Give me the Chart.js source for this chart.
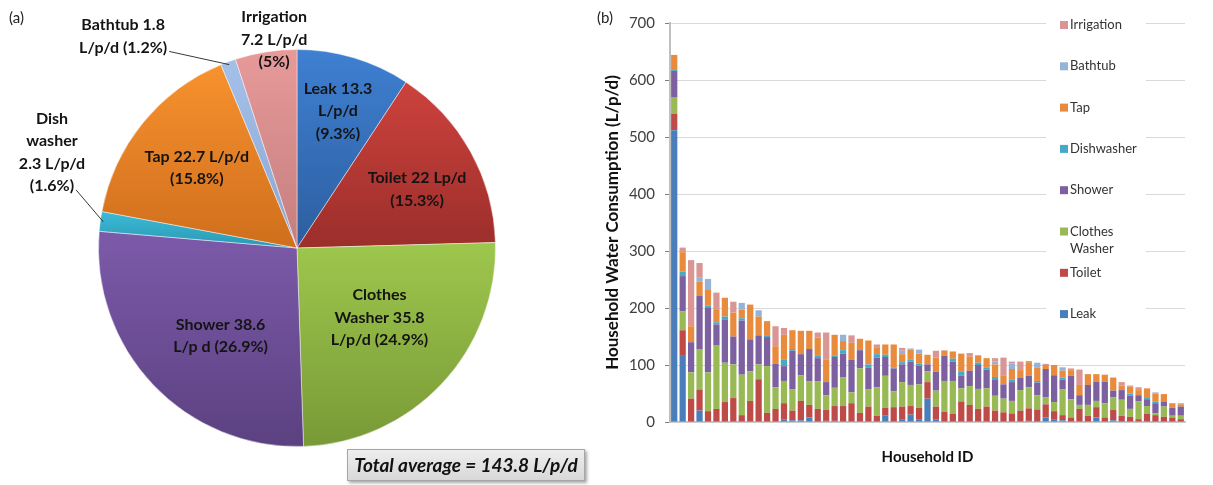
<!DOCTYPE html>
<html>
<head>
<meta charset="utf-8">
<script src="https://cdn.jsdelivr.net/npm/chart.js@4.4.1/dist/chart.umd.min.js"></script>
<style>
  html, body { margin: 0; padding: 0; background: #ffffff; }
  body { width: 1213px; height: 485px; position: relative; overflow: hidden; font-family: Lato, "Open Sans", sans-serif; }
  #pieWrap { position: absolute; left: 0; top: 0; width: 600px; height: 485px; }
  #barWrap { position: absolute; left: 590px; top: 0; width: 623px; height: 485px; }
  .panel { position: absolute; font: 15px Lato, "Open Sans", sans-serif; color: #222; }
  #totalBox {
    position: absolute; left: 347px; top: 449px; width: 236px; height: 30px;
    background: linear-gradient(#eeeeee, #d8d8d8);
    border: 1px solid #a6a6a6;
    box-shadow: 2px 2px 3px rgba(0,0,0,0.35);
    font: italic bold 19px Lato, "Open Sans", sans-serif; color: #111;
    text-align: center; line-height: 30px; white-space: nowrap;
  }
</style>
</head>
<body>
<div id="pieWrap"><canvas id="pie" width="600" height="485"></canvas></div>
<div id="barWrap"><canvas id="bars" width="623" height="485"></canvas></div>
<div class="panel" style="left:9px;top:8px;">(a)</div>
<div class="panel" style="left:597px;top:8px;">(b)</div>
<div id="totalBox"></div>

<script>
// ---------- (a) average end-use breakdown ----------
const pieCategories = ['Leak', 'Toilet', 'Clothes Washer', 'Shower', 'Dishwasher', 'Tap', 'Bathtub', 'Irrigation'];
const pieValues = [13.3, 22, 35.8, 38.6, 2.3, 22.7, 1.8, 7.2];          // L/p/d
const pieShares = [9.3, 15.3, 24.9, 26.9, 1.6, 15.8, 1.2, 5];            // %
const totalAverage = 143.8;                                             // L/p/d

// ---------- (b) per-household stacked consumption (L/p/d) ----------
const householdIds = ['1','2','3','4','5','6','7','8','9','10','11','12','13','14','15','16','17','18','19','20',
  '21','22','23','24','25','26','27','28','29','30','31','32','33','34','35','36','37','38','39','40',
  '41','42','43','44','45','46','47','48','49','50','51','52','53','54','55','56','57','58','59','60','61'];
const leakValues       = [512,116,0,20,0,0,0,0,0,0, 0,0,0,4,3,3,8,0,2,2, 0,0,0,0,0,11,0,5,13,5, 41,4,0,0,0,0,0,0,0,0, 0,0,2,0,8,5,3,0,0,0, 8,0,3,0,0,0,0,0,0,0,0];
const toiletValues     = [29,45,41,37,19,23,35,42,12,37, 75,16,23,29,17,34,22,23,19,26, 28,33,16,27,11,14,26,22,15,20, 29,23,18,14,36,30,23,27,20,17, 15,20,22,22,23,14,9,8,23,11, 18,8,18,11,9,5,14,12,9,8,5];
const washerValues     = [28,33,46,70,68,111,69,59,71,52, 26,82,38,39,37,45,41,48,26,32, 50,19,78,30,50,56,28,43,37,41, 19,28,54,58,23,33,35,32,26,24, 22,36,37,25,12,16,45,32,7,19, 11,25,22,28,14,31,14,3,18,3,6];
const showerValues     = [47,62,53,94,113,37,76,49,95,56, 51,51,41,26,68,37,57,41,23,54, 42,57,32,38,52,33,40,31,41,33, 12,33,44,34,22,27,42,33,29,25, 33,22,20,22,50,47,17,41,17,35, 34,38,12,17,23,11,12,18,9,14,16];
const dishwasherValues = [3,8,0,0,4,4,5,0,4,0, 0,2,0,11,3,0,0,4,0,2, 6,0,0,6,6,4,1,4,4,3, 0,0,0,5,8,0,4,4,4,0, 4,0,0,3,0,0,4,0,0,0, 0,0,0,0,4,0,2,3,0,0,0];
const tapValues        = [25,34,28,25,29,23,33,42,15,61, 33,26,31,44,33,41,32,32,39,37, 16,30,20,42,11,18,41,14,17,18, 17,25,9,12,31,25,13,16,22,16, 19,13,24,23,7,18,12,10,18,19, 13,12,23,8,12,9,17,14,13,8,4];
const bathtubValues    = [0,0,0,7,18,0,0,0,12,0, 11,0,0,0,0,0,0,0,0,0, 11,0,0,0,0,0,0,6,2,7, 0,0,0,1,0,0,0,0,5,0, 10,0,0,9,0,0,6,0,0,0, 0,0,0,0,0,0,0,2,0,0,2];
const irrigationValues = [0,8,116,26,0,29,0,19,0,0, 0,0,35,12,0,0,0,9,48,0, 0,13,0,0,6,0,0,5,0,0, 0,12,1,0,0,6,0,0,6,31, 3,15,2,0,2,0,0,3,27,0, 0,0,0,6,2,5,0,0,0,0,0];

const barSeries = [
  { label: 'Leak',           data: leakValues,       color: '#4a7ebb' },
  { label: 'Toilet',         data: toiletValues,     color: '#be4b48' },
  { label: 'Clothes Washer', data: washerValues,     color: '#98b954' },
  { label: 'Shower',         data: showerValues,     color: '#7d60a0' },
  { label: 'Dishwasher',     data: dishwasherValues, color: '#46aac5' },
  { label: 'Tap',            data: tapValues,        color: '#e98b3d' },
  { label: 'Bathtub',        data: bathtubValues,    color: '#95b3d7' },
  { label: 'Irrigation',     data: irrigationValues, color: '#d99694' }
];

const FONT = 'Lato, "Open Sans", sans-serif';

// slice fills: light at the top of each slice, darker toward its bottom
const pieGradientStops = [
  ['#3f80d2', '#2c5e9f'],
  ['#cd423d', '#9b2e2b'],
  ['#9ec74d', '#789936'],
  ['#7c5aaa', '#5b4180'],
  ['#3cbbd8', '#2a97b2'],
  ['#f8922f', '#cf6e1c'],
  ['#a5c0e8', '#8aa6d2'],
  ['#e79a99', '#c47e7e']
];

// label block placement: fraction of radius and angular nudge (degrees) from slice middle
const pieLabelPlacement = [
  { frac: 0.72,  shift: 0 },
  { frac: 0.673, shift: 3.1 },
  { frac: 0.543, shift: -3.2 },
  { frac: 0.587, shift: -5.5 },
  { frac: 1.325, shift: 13.6, leader: true },
  { frac: 0.647, shift: -0.3 },
  { frac: 1.38,  shift: -19.1, leader: true },
  { frac: 1.056, shift: 2.75 }
];

function pieLabelLines(i) {
  const v = pieValues[i], s = pieShares[i];
  switch (i) {
    case 0: return ['Leak ' + v, 'L/p/d', '(' + s + '%)'];
    case 1: return ['Toilet ' + v + ' Lp/d', '(' + s + '%)'];
    case 2: return ['Clothes', 'Washer ' + v, 'L/p/d (' + s + '%)'];
    case 3: return ['Shower ' + v, 'L/p d (' + s + '%)'];
    case 4: return ['Dish', 'washer', v + ' L/p/d', '(' + s + '%)'];
    case 5: return ['Tap ' + v + ' L/p/d', '(' + s + '%)'];
    case 6: return ['Bathtub ' + v, 'L/p/d (' + s + '%)'];
    default: return ['Irrigation', v + ' L/p/d', '(' + s + '%)'];
  }
}

function sliceGradient(context) {
  const chart = context.chart;
  const area = chart.chartArea;
  const i = context.dataIndex;
  const stops = pieGradientStops[i];
  if (!area) return stops[0];
  const cx = (area.left + area.right) / 2, cy = (area.top + area.bottom) / 2;
  const r = Math.min(area.right - area.left, area.bottom - area.top) / 2;
  const total = pieValues.reduce((a, b) => a + b, 0);
  let before = 0;
  for (let k = 0; k < i; k++) before += pieValues[k];
  const a0 = -Math.PI / 2 + 2 * Math.PI * before / total;
  const a1 = a0 + 2 * Math.PI * pieValues[i] / total;
  let yMin = cy, yMax = cy;
  for (let t = 0; t <= 40; t++) {
    const a = a0 + (a1 - a0) * t / 40;
    const y = cy + Math.sin(a) * r;
    yMin = Math.min(yMin, y); yMax = Math.max(yMax, y);
  }
  const g = chart.ctx.createLinearGradient(0, yMin, 0, yMax + 1);
  g.addColorStop(0, stops[0]);
  g.addColorStop(1, stops[1]);
  return g;
}

const pieLabelPlugin = {
  id: 'pieLabels',
  afterDatasetsDraw(chart) {
    const ctx = chart.ctx;
    const meta = chart.getDatasetMeta(0);
    const lineH = 22.3;
    ctx.save();
    ctx.font = 'bold 16px ' + FONT;
    ctx.fillStyle = '#141414';
    ctx.textAlign = 'center';
    ctx.textBaseline = 'middle';
    meta.data.forEach((arc, i) => {
      const p = arc.getProps(['x', 'y', 'startAngle', 'endAngle', 'outerRadius'], true);
      const place = pieLabelPlacement[i];
      const mid = (p.startAngle + p.endAngle) / 2;
      const a = mid + place.shift * Math.PI / 180;
      const lx = p.x + Math.cos(a) * p.outerRadius * place.frac;
      const ly = p.y + Math.sin(a) * p.outerRadius * place.frac;
      const lines = pieLabelLines(i);
      const y0 = ly - (lines.length - 1) * lineH / 2;
      lines.forEach((t, k) => ctx.fillText(t, lx, y0 + k * lineH));
      if (place.leader) {
        const last = lines[lines.length - 1];
        const w = ctx.measureText(last).width;
        const sx = lx + w / 2 + 2;
        const sy = y0 + (lines.length - 1) * lineH + 4;
        const ex = p.x + Math.cos(mid) * p.outerRadius * 0.985;
        const ey = p.y + Math.sin(mid) * p.outerRadius * 0.985;
        ctx.beginPath();
        ctx.strokeStyle = '#222';
        ctx.lineWidth = 0.9;
        ctx.moveTo(sx, sy);
        ctx.lineTo(ex, ey);
        ctx.stroke();
      }
    });
    ctx.restore();
  }
};

new Chart(document.getElementById('pie'), {
  type: 'pie',
  data: {
    labels: pieCategories,
    datasets: [{
      data: pieValues,
      backgroundColor: sliceGradient,
      borderColor: 'rgba(255,255,255,0.45)',
      borderWidth: 1
    }]
  },
  options: {
    responsive: false,
    animation: false,
    layout: { padding: { left: 98, top: 49, right: 104, bottom: 38 } },
    plugins: { legend: { display: false }, tooltip: { enabled: false } }
  },
  plugins: [pieLabelPlugin]
});

document.getElementById('totalBox').textContent = 'Total average = ' + totalAverage + ' L/p/d';

// ---------- (b) ----------
const sideLegendPlugin = {
  id: 'sideLegend',
  afterDatasetsDraw(chart) {
    const ctx = chart.ctx, ca = chart.chartArea;
    const boxLeft = ca.right - 139, boxRight = ca.right - 39;
    ctx.save();
    ctx.fillStyle = '#ffffff';
    ctx.fillRect(boxLeft, ca.top - 14, boxRight - boxLeft, 322);
    ctx.font = '13px ' + FONT;
    ctx.textBaseline = 'middle';
    ctx.textAlign = 'left';
    const items = chart.data.datasets.slice().reverse();
    items.forEach((ds, k) => {
      const y = ca.top + 2 + k * 41.3;
      ctx.fillStyle = ds.backgroundColor;
      ctx.fillRect(ca.right - 125, y - 4, 8, 8);
      ctx.fillStyle = '#333';
      const words = ds.label.split(' ');
      words.forEach((w, j) => ctx.fillText(w, ca.right - 115, y + j * 17));
    });
    ctx.restore();
  }
};

new Chart(document.getElementById('bars'), {
  type: 'bar',
  data: {
    labels: householdIds,
    datasets: barSeries.map(s => ({
      label: s.label,
      data: s.data,
      backgroundColor: s.color,
      borderWidth: 0,
      barPercentage: 0.74,
      categoryPercentage: 1.0
    }))
  },
  options: {
    responsive: false,
    animation: false,
    layout: { padding: { left: 0, top: 23, right: 28, bottom: 0 } },
    plugins: { legend: { display: false }, tooltip: { enabled: false } },
    scales: {
      x: {
        stacked: true,
        grid: { display: false },
        ticks: { display: false },
        border: { display: true, color: '#bfbfbf', width: 1.5 },
        title: { display: true, text: 'Household ID', color: '#111',
                 font: { family: FONT, size: 15, weight: 'bold' }, padding: { top: 0, bottom: 19 } },
        afterFit(scale) { scale.height = 63; }
      },
      y: {
        stacked: true,
        min: 0,
        max: 700,
        ticks: { stepSize: 100, color: '#404040', padding: 10, font: { family: FONT, size: 15 } },
        grid: { color: '#d9d9d9', lineWidth: 1, tickLength: 5, tickColor: '#7f7f7f' },
        border: { display: true, color: '#bfbfbf', width: 2 },
        title: { display: true, text: 'Household Water Consumption (L/p/d)', color: '#111',
                 font: { family: FONT, size: 17, weight: 'bold' }, padding: { top: 12, bottom: 0 } },
        afterFit(scale) { scale.width = 80; }
      }
    }
  },
  plugins: [sideLegendPlugin]
});
</script>
</body>
</html>
